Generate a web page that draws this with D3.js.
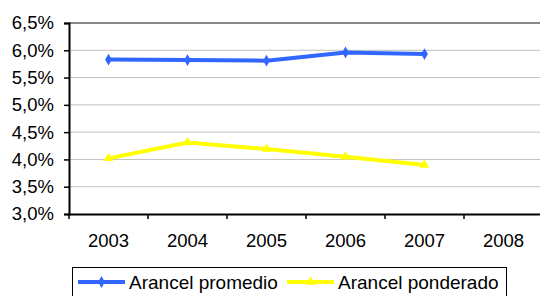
<!DOCTYPE html>
<html>
<head>
<meta charset="utf-8">
<script src="https://cdn.jsdelivr.net/npm/d3@7"></script>
<style>
  body { margin: 0; background: #fff; }
  text { font-family: "Liberation Sans", Arial, sans-serif; fill: #000; }
</style>
</head>
<body>
<div class="main"></div>
<script>
var years = ['2003', '2004', '2005', '2006', '2007', '2008'];
var promedio = [5.83, 5.82, 5.81, 5.96, 5.93];
var ponderado = [4.02, 4.31, 4.19, 4.05, 3.90];
var yTicks = [3.0, 3.5, 4.0, 4.5, 5.0, 5.5, 6.0, 6.5];

var options = {
    'width': 540,
    'height': 296
};

var svg = d3.select('.main')
    .append('svg')
    .attr('width', options.width)
    .attr('height', options.height);

var x = d3.scaleBand().domain(years).range([69, 543]);
var y = d3.scaleLinear().domain([3.0, 6.5]).range([214, 23]);

var fmt = function (d) {
    return d.toFixed(1).replace('.', ',') + '%';
};

// gridlines
svg.selectAll('.grid')
    .data(yTicks.slice(1, -1))
    .enter()
    .append('line')
    .attr('x1', 69)
    .attr('x2', 543)
    .attr('y1', function (d) { return y(d); })
    .attr('y2', function (d) { return y(d); })
    .style('stroke', '#c0c0c0')
    .style('stroke-width', '1px');

// top border
svg.append('line')
    .attr('x1', 69).attr('x2', 543)
    .attr('y1', y(6.5)).attr('y2', y(6.5))
    .style('stroke', '#888')
    .style('stroke-width', '2px');

// y axis
var yAxis = svg.append('g')
    .attr('transform', 'translate(69,0)')
    .call(d3.axisLeft(y).tickValues(yTicks).tickFormat(fmt).tickSize(5).tickPadding(10));
yAxis.selectAll('text').style('font-size', '18.5px').style('font-family', '"Liberation Sans", Arial, sans-serif');
yAxis.select('.domain').style('stroke-width', '2px');
yAxis.selectAll('.tick line').style('stroke-width', '1.5px');

// x axis
var xAxis = svg.append('g')
    .attr('transform', 'translate(0,214)')
    .call(d3.axisBottom(x).tickSize(0).tickPadding(20));
xAxis.selectAll('text').style('font-size', '18.5px').style('font-family', '"Liberation Sans", Arial, sans-serif');
xAxis.select('.domain').style('stroke-width', '2px');
xAxis.selectAll('.xt')
    .data(years)
    .enter()
    .append('line')
    .attr('x1', function (d) { return x(d); })
    .attr('x2', function (d) { return x(d); })
    .attr('y1', 0)
    .attr('y2', 5)
    .style('stroke', '#000')
    .style('stroke-width', '1.5px');

var line = d3.line()
    .x(function (d, i) { return x(years[i]) + x.bandwidth() / 2; })
    .y(function (d) { return y(d); });

var diamond = d3.symbol().type(d3.symbolDiamond).size(40);
var triangle = d3.symbol().type(d3.symbolTriangle).size(40);

var series = [
    { values: promedio, color: '#3366ff', symbol: diamond, name: 'Arancel promedio' },
    { values: ponderado, color: '#ffff00', symbol: triangle, name: 'Arancel ponderado' }
];

series.forEach(function (s) {
    svg.append('path')
        .attr('d', line(s.values))
        .style('fill', 'none')
        .style('stroke', s.color)
        .style('stroke-width', '4px');
    svg.selectAll(null)
        .data(s.values)
        .enter()
        .append('path')
        .attr('d', s.symbol)
        .attr('transform', function (d, i) {
            return 'translate(' + [x(years[i]) + x.bandwidth() / 2, y(d)] + ')';
        })
        .style('fill', s.color);
});

// legend
var legend = svg.append('g');
legend.append('rect')
    .attr('x', 72.5)
    .attr('y', 267.5)
    .attr('width', 434)
    .attr('height', 40)
    .style('fill', '#fff')
    .style('stroke', '#000')
    .style('stroke-width', '1px');

var legendX = [78, 287];
series.forEach(function (s, i) {
    var lx = legendX[i];
    legend.append('line')
        .attr('x1', lx).attr('x2', lx + 47)
        .attr('y1', 282).attr('y2', 282)
        .style('stroke', s.color)
        .style('stroke-width', '4px');
    legend.append('path')
        .attr('d', s.symbol)
        .attr('transform', 'translate(' + [lx + 23.5, 282] + ')')
        .style('fill', s.color);
    legend.append('text')
        .attr('x', lx + 51)
        .attr('y', 289)
        .style('font-size', '19px')
        .text(s.name);
});
</script>
</body>
</html>
